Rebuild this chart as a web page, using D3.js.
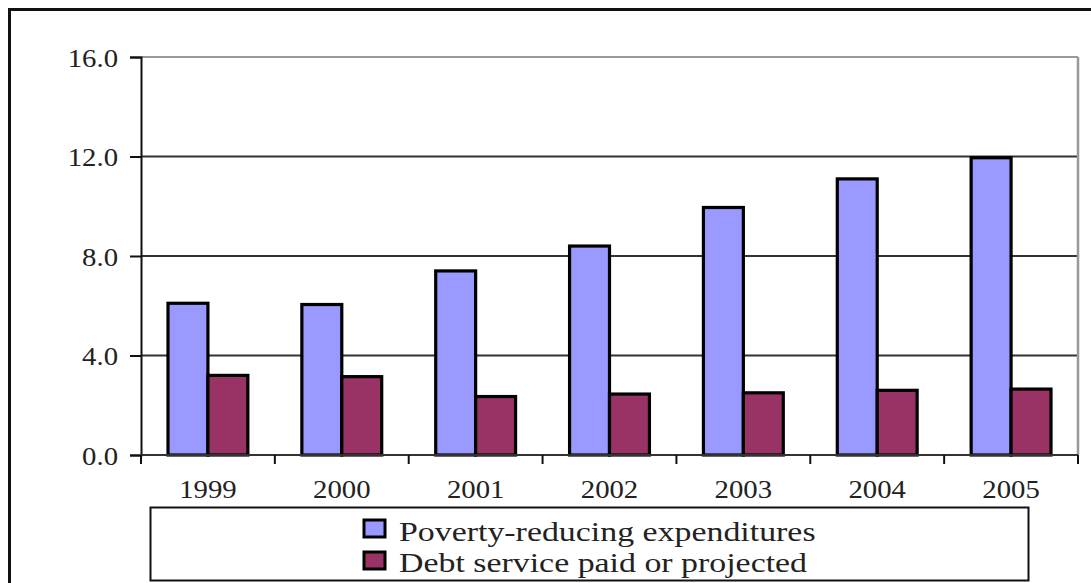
<!DOCTYPE html>
<html>
<head>
<meta charset="utf-8">
<script src="https://cdn.jsdelivr.net/npm/d3@7"></script>
<style>
  body { margin: 0; background: #fff; }
  text { font-family: "Liberation Serif", "DejaVu Serif", serif; fill: #222; }
</style>
</head>
<body>
<div id="chart"></div>
<script>
var years = ["1999", "2000", "2001", "2002", "2003", "2004", "2005"];
var poverty = [6.1, 6.05, 7.4, 8.4, 9.95, 11.1, 11.95];
var debt = [3.2, 3.15, 2.35, 2.45, 2.5, 2.6, 2.65];
var seriesNames = ["Poverty-reducing expenditures", "Debt service paid or projected"];
var seriesColors = ["#9999ff", "#993366"];
var yTicks = [0, 4, 8, 12, 16];

var svgWidth = 1091;
var svgHeight = 583;
var margin = { top: 57, left: 141, right: 13, bottom: 128 };
var width = svgWidth - margin.left - margin.right;
var height = svgHeight - margin.top - margin.bottom;
var stretch = 1.15;

var svg = d3.select("#chart")
  .append("svg")
  .attr("width", svgWidth)
  .attr("height", svgHeight);

// outer frame (runs off the right and bottom edges)
svg.append("path")
  .attr("d", "M9.5,600 L9.5,9.5 L1100,9.5")
  .attr("fill", "none")
  .attr("stroke", "#111")
  .attr("stroke-width", 3);

var chartGroup = svg.append("g")
  .attr("transform", `translate(${margin.left}, ${margin.top})`);

var x0 = d3.scaleBand().domain(years).range([0, width]).paddingInner(0).paddingOuter(0);
var x1 = d3.scaleBand().domain([0, 1]).range([27, x0.bandwidth() - 27]);
var y = d3.scaleLinear().domain([0, 16]).range([height, 0]);

// gridlines
chartGroup.selectAll(".grid")
  .data(yTicks.filter(d => d > 0))
  .enter()
  .append("line")
  .attr("x1", 0)
  .attr("x2", width)
  .attr("y1", d => y(d))
  .attr("y2", d => y(d))
  .attr("stroke", d => d === 16 ? "#999" : "#333")
  .attr("stroke-width", 2);

// right border of plot area
chartGroup.append("line")
  .attr("x1", width).attr("x2", width)
  .attr("y1", y(16)).attr("y2", y(0))
  .attr("stroke", "#999")
  .attr("stroke-width", 2.5);

// bars
var series = [poverty, debt];
series.forEach(function(vals, s) {
  chartGroup.selectAll(".bar" + s)
    .data(vals)
    .enter()
    .append("rect")
    .attr("x", (d, i) => x0(years[i]) + x1(s))
    .attr("y", d => y(d))
    .attr("width", x1.bandwidth())
    .attr("height", d => y(0) - y(d))
    .attr("fill", seriesColors[s])
    .attr("stroke", "#000")
    .attr("stroke-width", 3.2);
});

// y axis
var leftAxis = d3.axisLeft(y).tickValues(yTicks).tickSize(11).tickFormat(d3.format(".1f"));
var yAxis = chartGroup.append("g").call(leftAxis);
yAxis.select(".domain").attr("stroke", "#111").attr("stroke-width", 2);
yAxis.selectAll(".tick line").attr("stroke", "#111").attr("stroke-width", 2);
yAxis.selectAll(".tick text")
  .attr("x", 0)
  .attr("dy", 0)
  .style("font-size", "25px")
  .style("font-family", "Liberation Serif, serif")
  .attr("fill", "#333")
  .attr("transform", `translate(-23, 9) scale(${stretch}, 1)`);

// x axis
var tickPos = years.map(d => x0(d)).concat([width]);
var xAxis = chartGroup.append("g").attr("transform", `translate(0, ${height})`);
xAxis.append("line")
  .attr("x1", 0).attr("x2", width)
  .attr("stroke", "#333").attr("stroke-width", 2);
xAxis.selectAll(".xtick")
  .data(tickPos)
  .enter()
  .append("line")
  .attr("x1", d => d).attr("x2", d => d)
  .attr("y1", 0).attr("y2", 9)
  .attr("stroke", "#111").attr("stroke-width", 2);
xAxis.selectAll(".xlabel")
  .data(years)
  .enter()
  .append("text")
  .attr("transform", d => `translate(${x0(d) + x0.bandwidth() / 2}, 43) scale(${stretch}, 1)`)
  .attr("text-anchor", "middle")
  .style("font-size", "25px")
  .attr("fill", "#333")
  .text(d => d);

// legend
var legend = svg.append("g");
legend.append("rect")
  .attr("x", 150.5).attr("y", 507.5)
  .attr("width", 878).attr("height", 73)
  .attr("fill", "#fff")
  .attr("stroke", "#111")
  .attr("stroke-width", 2);

seriesNames.forEach(function(name, i) {
  legend.append("rect")
    .attr("x", 364).attr("y", 520 + i * 32)
    .attr("width", 21).attr("height", 17)
    .attr("fill", seriesColors[i])
    .attr("stroke", "#000")
    .attr("stroke-width", 3);
  legend.append("text")
    .attr("transform", `translate(399, ${541 + i * 31}) scale(1.21, 1)`)
    .style("font-size", "28px")
    .attr("fill", "#333")
    .text(name);
});
</script>
</body>
</html>
